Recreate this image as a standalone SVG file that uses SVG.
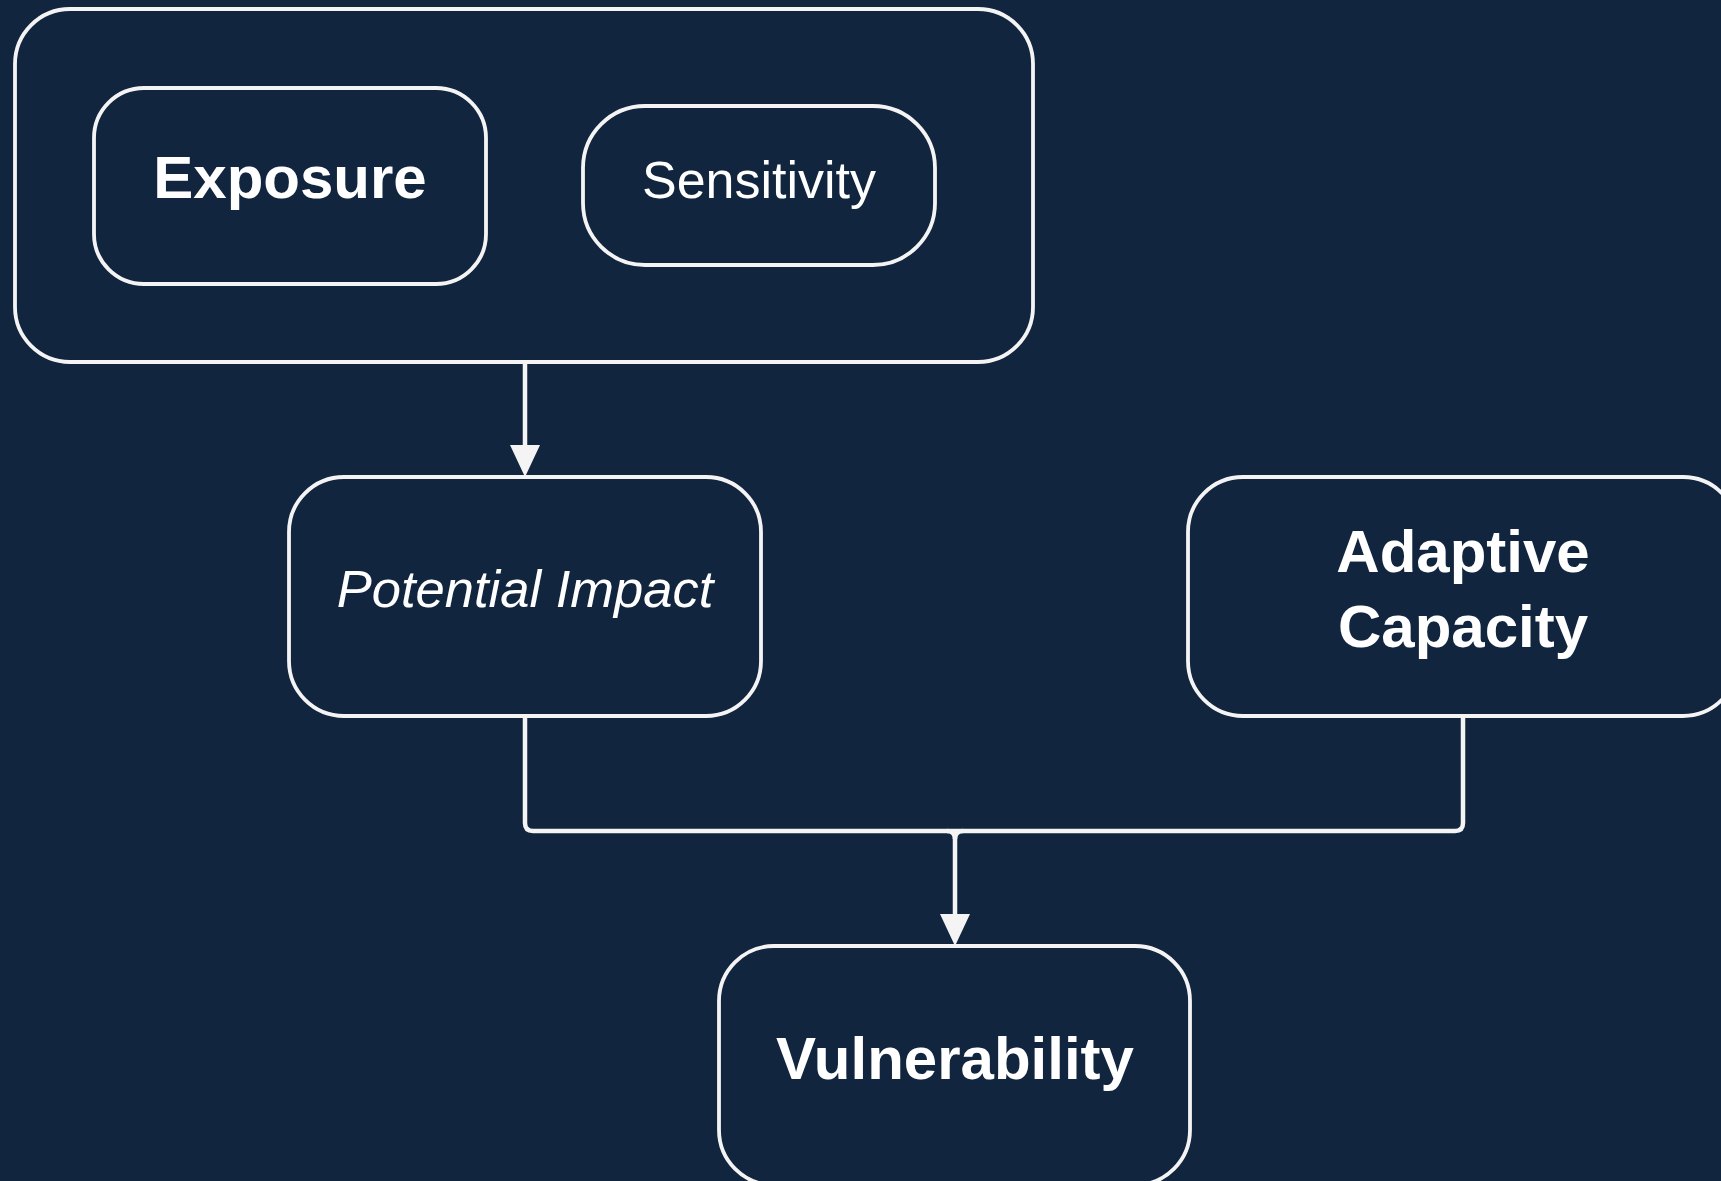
<svg xmlns="http://www.w3.org/2000/svg" width="1721" height="1181" viewBox="0 0 1721 1181">
<style>
.node{fill:#12253f;stroke:#f4f4f4;stroke-width:3.8}
.t{fill:#ffffff;font-family:"Liberation Sans",Arial,sans-serif;text-anchor:middle}
.b{font-weight:bold;font-size:60px}
.r{font-size:52px}
.i{font-style:italic;font-size:52.5px}
.c{fill:none;stroke:#f4f4f4;stroke-width:4.5}
</style>
<defs>
<marker id="arr" markerUnits="userSpaceOnUse" markerWidth="32" markerHeight="30" viewBox="0 0 32 30" refX="22" refY="15" orient="auto">
<path d="M0 0 L32 15 L0 30 z" fill="#f4f4f4"/>
</marker>
</defs>
<rect width="1721" height="1181" fill="#12253f"/>
<g id="group-top">
<rect class="node" x="15" y="9" width="1018" height="353" rx="55"/>
</g>
<g id="exposure">
<rect class="node" x="94" y="88" width="392" height="196" rx="50"/>
<text class="t b" x="290" y="198">Exposure</text>
</g>
<g id="sensitivity">
<rect class="node" x="583" y="106" width="352" height="159" rx="62"/>
<text class="t r" x="759" y="198">Sensitivity</text>
</g>
<g id="potential-impact">
<rect class="node" x="289" y="477" width="472" height="239" rx="55"/>
<text class="t i" x="525" y="607">Potential Impact</text>
</g>
<g id="adaptive-capacity">
<rect class="node" x="1188" y="477" width="550" height="239" rx="55"/>
<text class="t b" x="1463" y="572">Adaptive</text>
<text class="t b" x="1463" y="647">Capacity</text>
</g>
<g id="vulnerability">
<rect class="node" x="719" y="946" width="471" height="239" rx="55"/>
<text class="t b" x="955" y="1079">Vulnerability</text>
</g>
<g id="connectors">
<path class="c" d="M525 364 L525 467" marker-end="url(#arr)"/>
<path class="c" d="M525 718 L525 823 Q525 831 533 831 L1455 831 Q1463 831 1463 823 L1463 718"/>
<path class="c" d="M947 831 Q955 831 955 839 Q955 831 963 831"/>
<path class="c" d="M955 835 L955 936" marker-end="url(#arr)"/>
</g>
</svg>
